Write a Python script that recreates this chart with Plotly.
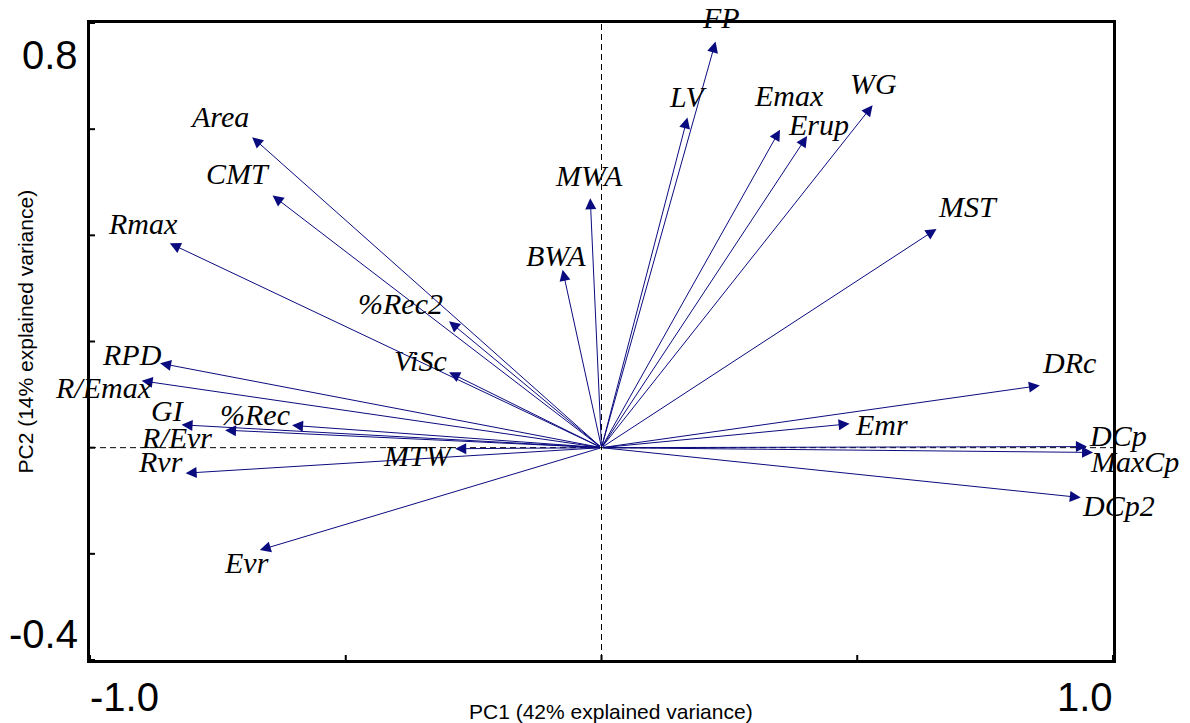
import plotly.graph_objects as go

# Variable loadings on the first two principal components
variables = ["FP", "LV", "Emax", "Erup", "WG", "MST", "MWA", "BWA", "%Rec2", "ViSc",
             "Area", "CMT", "Rmax", "RPD", "R/Emax", "GI", "%Rec", "R/Evr", "MTW",
             "Rvr", "Evr", "DRc", "Emr", "DCp", "MaxCp", "DCp2"]
pc1 = [0.223, 0.168, 0.349, 0.402, 0.530, 0.655, -0.022, -0.076, -0.298, -0.298,
       -0.683, -0.643, -0.844, -0.863, -0.899, -0.821, -0.605, -0.736, -0.286,
       -0.813, -0.668, 0.857, 0.485, 0.949, 0.961, 0.937]
pc2 = [0.765, 0.622, 0.599, 0.587, 0.645, 0.412, 0.470, 0.335, 0.238, 0.142,
       0.585, 0.475, 0.385, 0.159, 0.126, 0.043, 0.042, 0.033, -0.002,
       -0.048, -0.193, 0.117, 0.045, 0.002, -0.009, -0.094]

# Label placement relative to each arrow tip, in screen pixels (right, down)
label_offset = {
    "FP": (5, -22), "LV": (1, -19), "Emax": (9, -32), "Erup": (11, -10),
    "WG": (1, -20), "MST": (31, -20), "MWA": (-1, -21), "BWA": (-7, -12),
    "%Rec2": (-49, -16), "ViSc": (-29, -10), "Area": (-33, -19), "CMT": (-35, -20),
    "Rmax": (-27, -18), "RPD": (-28, -7), "R/Emax": (-38, 9), "GI": (-14, -12),
    "%Rec": (-37, -9), "R/Evr": (-49, 9), "MTW": (-37, 9), "Rvr": (-25, -10),
    "Evr": (-13, 14), "DRc": (29, -21), "Emr": (32, 3), "DCp": (31, -9),
    "MaxCp": (41, 11), "DCp2": (38, 10),
}

x_ticks = [-1.0, -0.5, 0.0, 0.5, 1.0]
y_ticks = [-0.4, -0.2, 0.0, 0.2, 0.4, 0.6, 0.8]

ARROW = "#0b0b80"
LABEL_FONT = dict(family="Liberation Serif, Times New Roman, serif", size=30, color="black")
TICK_FONT = dict(family="Liberation Sans, Arial, sans-serif", size=40, color="black")
TITLE_FONT = dict(family="Liberation Sans, Arial, sans-serif", size=21, color="black")

fig = go.Figure()
fig.add_trace(go.Scatter(x=[0], y=[0], mode="markers", marker=dict(opacity=0),
                         hoverinfo="skip", showlegend=False))

annotations = []
for name, vx, vy in zip(variables, pc1, pc2):
    annotations.append(dict(
        x=vx, y=vy, xref="x", yref="y", ax=0, ay=0, axref="x", ayref="y",
        text="", showarrow=True, arrowhead=2, arrowsize=2.2, arrowwidth=1,
        arrowcolor=ARROW, standoff=0, startstandoff=0,
    ))
for name, vx, vy in zip(variables, pc1, pc2):
    dx, dy = label_offset[name]
    annotations.append(dict(
        x=vx, y=vy, xref="x", yref="y", text=f"<i>{name}</i>", showarrow=False,
        xshift=dx, yshift=-dy + 2, xanchor="center", yanchor="middle", font=LABEL_FONT,
    ))

# Tick labels at the ends of each axis
annotations += [
    dict(x=0, y=0.8, xref="paper", yref="y", text="0.8", showarrow=False,
         xanchor="right", yanchor="middle", xshift=-10, yshift=-32, font=TICK_FONT),
    dict(x=0, y=-0.4, xref="paper", yref="y", text="-0.4", showarrow=False,
         xanchor="right", yanchor="middle", xshift=-10, yshift=26, font=TICK_FONT),
    dict(x=-1.0, y=0, xref="x", yref="paper", text="-1.0", showarrow=False,
         xanchor="left", yanchor="middle", xshift=-2, yshift=-37, font=TICK_FONT),
    dict(x=1.0, y=0, xref="x", yref="paper", text="1.0", showarrow=False,
         xanchor="right", yanchor="middle", xshift=2, yshift=-37, font=TICK_FONT),
    dict(x=0.5, y=0, xref="paper", yref="paper", text="PC1 (42% explained variance)",
         showarrow=False, xanchor="center", yanchor="middle", xshift=9, yshift=-51,
         font=TITLE_FONT),
    dict(x=0, y=0.5, xref="paper", yref="paper", text="PC2 (14% explained variance)",
         showarrow=False, xanchor="center", yanchor="middle", xshift=-65, yshift=10,
         textangle=-90, font=TITLE_FONT),
]

shapes = [
    # reference lines through the origin
    dict(type="line", xref="x", yref="y", x0=0, x1=0, y0=-0.4, y1=0.8,
         line=dict(color="black", width=1, dash="6px,4px"), layer="below"),
    dict(type="line", xref="x", yref="y", x0=-1, x1=1, y0=0, y1=0,
         line=dict(color="black", width=1, dash="6px,4px"), layer="below"),
]
for t in y_ticks:
    shapes.append(dict(type="line", xref="x", yref="y", xsizemode="pixel", xanchor=-1,
                       x0=-4, x1=5, y0=t, y1=t, line=dict(color="black", width=2)))
for t in x_ticks:
    shapes.append(dict(type="line", xref="x", yref="y", ysizemode="pixel", yanchor=-0.4,
                       y0=-6, y1=5, x0=t, x1=t, line=dict(color="black", width=2)))

axis_common = dict(showgrid=False, zeroline=False, showticklabels=False, ticks="",
                   showline=True, linecolor="black", linewidth=2.5, mirror=True)
fig.update_layout(
    width=1190, height=723,
    margin=dict(l=90, r=77, t=23, b=63),
    paper_bgcolor="white", plot_bgcolor="white",
    xaxis=dict(range=[-1, 1], **axis_common),
    yaxis=dict(range=[-0.4, 0.8], **axis_common),
    annotations=annotations, shapes=shapes, showlegend=False,
)

fig.write_html("out.html")
